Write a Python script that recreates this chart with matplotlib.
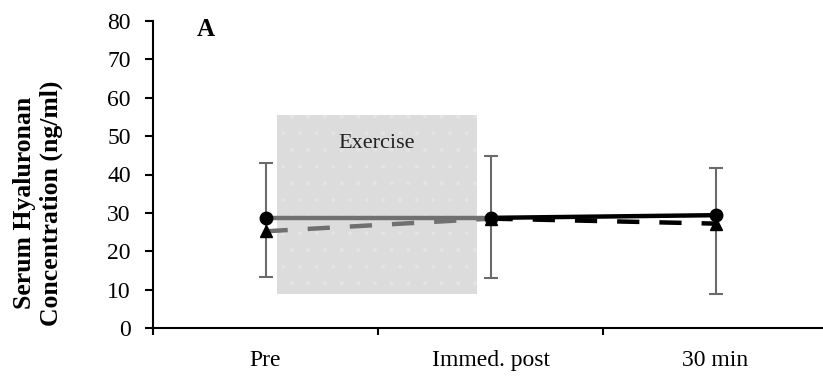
import matplotlib.pyplot as plt
import numpy as np

plt.rcParams['font.family'] = ['Liberation Serif', 'DejaVu Serif']
plt.rcParams['hatch.linewidth'] = 0.4

# time points and group means (ng/ml)
timepoints = ['Pre', 'Immed. post', '30 min']
circle_mean = [28.7, 28.7, 29.4]
triangle_mean = [25.2, 28.5, 27.2]
# error bar ends (ng/ml)
err_top = [42.9, 44.9, 41.8]
err_bottom = [13.4, 13.1, 8.8]
# exercise window
exercise_x = [0.05, 0.94]
exercise_y = [8.9, 55.5]

seg_colors = ['#707070', 'black']

fig = plt.figure(figsize=(8.23, 3.76), dpi=100)
ax = fig.add_axes([153/823, 48/376, 675/823, 307/376])

x = np.arange(len(timepoints))

ax.fill_between(exercise_x, exercise_y[0], exercise_y[1], facecolor='#dcdcdc',
                edgecolor='#e4e4e4', hatch='.', linewidth=0, zorder=0)
ax.text(np.mean(exercise_x), 46.9, 'Exercise', ha='center', va='baseline',
        fontsize=16, color='#222222')

mid = np.array(circle_mean)
yerr = [mid - np.array(err_bottom), np.array(err_top) - mid]
ax.errorbar(x, mid, yerr=yerr, fmt='none', ecolor='#6a6a6a', elinewidth=1.5,
            capsize=5, capthick=1.5, zorder=2)

for i in range(len(x) - 1):
    ax.plot(x[i:i+2], circle_mean[i:i+2], color=seg_colors[i], lw=3.2,
            solid_capstyle='butt', zorder=3)
    ax.plot(x[i:i+2], triangle_mean[i:i+2], color=seg_colors[i], lw=3.2,
            dashes=(5, 4.5), zorder=3)

ax.plot(x, triangle_mean, ls='none', marker='^', ms=9, color='black', zorder=4)
ax.plot(x, circle_mean, ls='none', marker='o', ms=9, color='black', zorder=5)

ax.set_xlim(-0.5, 2.5)
ax.set_ylim(0, 80)
ax.set_yticks(np.arange(0, 81, 10))
ax.set_xticks(x)
ax.set_xticklabels(timepoints)
ax.set_xticks([-0.5, 0.5, 1.5, 2.5], minor=True)
ax.tick_params(axis='x', which='major', length=0, pad=16, labelsize=17)
ax.tick_params(axis='x', which='minor', length=5, width=1.5, direction='out')
ax.tick_params(axis='y', length=6, width=1.5, direction='out', labelsize=17,
               pad=10)

for s in ['top', 'right']:
    ax.spines[s].set_visible(False)
for s in ['left', 'bottom']:
    ax.spines[s].set_linewidth(1.5)

fig.text(38/823, 0.46, 'Serum Hyaluronan\nConcentration (ng/ml)', rotation=90,
         ha='center', va='center', fontsize=18.5, fontweight='bold',
         linespacing=1.25)
fig.text(197/823, (376 - 36)/376, 'A', fontsize=18, fontweight='bold',
         va='baseline')

fig.savefig('out.png', dpi=100)
